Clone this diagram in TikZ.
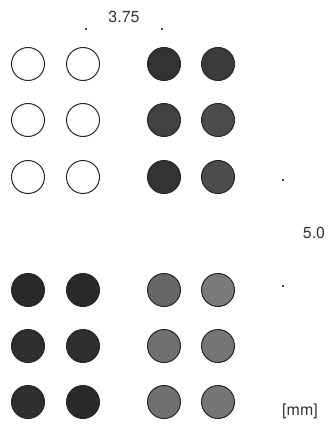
\documentclass[tikz,border=0pt]{standalone}
\usepackage{fontspec}
\setmainfont{TeX Gyre Heros}
\usetikzlibrary{positioning}

\begin{document}
\begin{tikzpicture}[x=1pt, y=-1pt]
        \tikzstyle{well}=[circle, minimum size=33pt, inner sep=0pt, draw=black!85, line width=1pt];
        \tikzstyle{tick}=[circle, minimum size=2.4pt, inner sep=0pt, fill=black];
        \tikzstyle{lbl}=[font=\fontsize{16}{18}\selectfont, text=black!80];

        \useasboundingbox (0, 0) rectangle (327, 425);

        % empty wells
        \node[well, fill=white] (1) at (28, 64) {};
        \node[well, fill=white] (2) at (83, 64) {};
        \node[well, fill=white] (3) at (28, 120) {};
        \node[well, fill=white] (4) at (83, 120) {};
        \node[well, fill=white] (5) at (28, 177) {};
        \node[well, fill=white] (6) at (83, 177) {};

        % filled wells, top right
        \node[well, fill=black!80] (7) at (164, 64) {};
        \node[well, fill=black!77] (8) at (218, 64) {};
        \node[well, fill=black!74] (9) at (164, 120) {};
        \node[well, fill=black!70] (10) at (218, 120) {};
        \node[well, fill=black!80] (11) at (164, 177) {};
        \node[well, fill=black!70] (12) at (218, 177) {};

        % filled wells, bottom left
        \node[well, fill=black!84] (13) at (28, 290) {};
        \node[well, fill=black!84] (14) at (83, 290) {};
        \node[well, fill=black!82] (15) at (28, 346) {};
        \node[well, fill=black!82] (16) at (83, 346) {};
        \node[well, fill=black!82] (17) at (28, 402) {};
        \node[well, fill=black!84] (18) at (83, 402) {};

        % filled wells, bottom right
        \node[well, fill=black!60] (19) at (164, 290) {};
        \node[well, fill=black!52] (20) at (218, 290) {};
        \node[well, fill=black!56] (21) at (164, 346) {};
        \node[well, fill=black!54] (22) at (218, 346) {};
        \node[well, fill=black!56] (23) at (164, 402) {};
        \node[well, fill=black!54] (24) at (218, 402) {};

        % spacing marks
        \node[tick] (t1) at (86, 29) {};
        \node[tick] (t2) at (162, 29) {};
        \node[lbl] (w) at (124, 17) {3.75};

        \node[tick] (t3) at (283, 180) {};
        \node[tick] (t4) at (283, 286) {};
        \node[lbl] (h) at (314, 233) {5.0};

        \node[lbl] (unit) at (300, 411) {[mm]};

    \end{tikzpicture}
\end{document}
